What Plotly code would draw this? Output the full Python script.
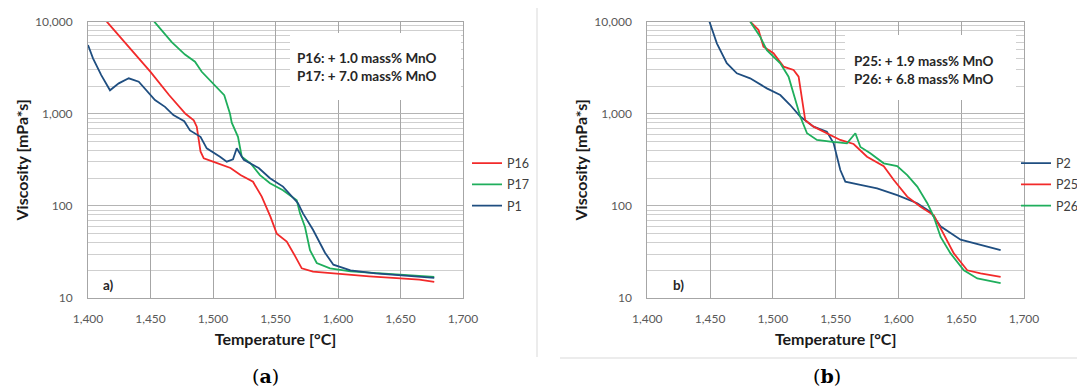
import plotly.graph_objects as go

# ---------------- Panel (a) data ----------------
t_p16 = [1415, 1430, 1450, 1465, 1478, 1484.6, 1487, 1490, 1492.6, 1500, 1507, 1514, 1522, 1532, 1539, 1546, 1551, 1559, 1566, 1571, 1580, 1600, 1625, 1650, 1665, 1677]
v_p16 = [10000, 5900, 2850, 1590, 1000, 850, 725, 390, 329, 302, 280, 258, 216, 183, 126, 76, 50, 41, 28, 21, 19.3, 18.2, 17.2, 16.3, 15.8, 15]

t_p17 = [1453, 1467, 1477.6, 1485.6, 1491, 1500, 1509, 1513.6, 1515, 1520, 1523, 1530, 1537.6, 1545.6, 1556, 1567, 1569.6, 1573.6, 1577.6, 1583, 1593.6, 1610, 1630, 1650, 1665, 1677]
v_p17 = [10000, 6000, 4400, 3680, 2860, 2140, 1590, 1000, 800, 563, 342, 290, 216, 176, 148, 115, 83, 59, 33, 24, 21, 19.5, 18.8, 18, 17.5, 17]

t_p1 = [1400, 1404, 1410.6, 1417.6, 1424.6, 1432.6, 1440.6, 1447.3, 1453.6, 1461.6, 1468.3, 1477, 1481.6, 1490, 1495, 1505.6, 1511, 1516, 1519, 1524.6, 1536.6, 1545.6, 1556, 1568, 1572, 1580, 1589.6, 1596.3, 1610, 1630, 1650, 1677]
v_p1 = [5580, 4000, 2630, 1800, 2140, 2430, 2230, 1740, 1410, 1190, 970, 830, 660, 563, 422, 342, 302, 320, 422, 316, 258, 200, 162, 107, 83, 55, 31, 23, 20, 18.5, 17.5, 16.5]

# ---------------- Panel (b) data ----------------
t_p2 = [1449.5, 1455.4, 1463.3, 1471.3, 1481.9, 1495.2, 1505.9, 1513.8, 1521.8, 1532.4, 1543, 1548.4, 1553.7, 1557.7, 1569.7, 1583, 1599, 1615, 1625.5, 1633.5, 1649.5, 1665, 1681.4]
v_p2 = [10000, 5820, 3540, 2750, 2430, 1890, 1600, 1245, 935, 725, 640, 478, 245, 183, 169, 155, 131, 107, 86, 60, 43, 38, 33]

t_p25 = [1482, 1488.6, 1492.5, 1500.5, 1508.5, 1516.5, 1520.5, 1523.2, 1525.8, 1532.4, 1543, 1553.7, 1564.3, 1575, 1588.3, 1596.3, 1607, 1617.6, 1628.2, 1636.1, 1644.1, 1654.8, 1665.4, 1681.4]
v_p25 = [10000, 8130, 5350, 4540, 3250, 2990, 2530, 1535, 850, 725, 615, 520, 470, 342, 270, 191, 126, 98, 79, 50, 30.5, 20, 18.5, 17]

t_p26 = [1482, 1489.9, 1495.2, 1505.9, 1512.5, 1517.8, 1521.8, 1527.2, 1535.1, 1545.8, 1559, 1565.7, 1569.7, 1577.6, 1588.3, 1599, 1607, 1615, 1623, 1628.2, 1633.6, 1641.5, 1652.1, 1662.8, 1681.4]
v_p26 = [10000, 6870, 4900, 3540, 2530, 1410, 935, 615, 520, 500, 478, 615, 436, 372, 290, 270, 216, 162, 107, 76, 46, 30.5, 20, 16.3, 14.5]

y_tickvals = [10, 100, 1000, 10000]
y_ticktext = ["10", "100", "1,000", "10,000"]
y_minor = [m * d for d in (10, 100, 1000) for m in range(2, 10)]
x_tickvals = [1400, 1450, 1500, 1550, 1600, 1650, 1700]

RED = "#f22a2a"
GREEN = "#1fae5c"
BLUE = "#1f4e80"

# the page body has an 8 px margin: positions below are window pixels shifted by it
OFF = 8
W, H = 1085, 389
def px(p):
    return (p - OFF) / W
def py(p):
    return 1 - (p - OFF) / H

fig = go.Figure()

series_a = [("P16", t_p16, v_p16, RED), ("P17", t_p17, v_p17, GREEN), ("P1", t_p1, v_p1, BLUE)]
series_b = [("P2", t_p2, v_p2, BLUE), ("P25", t_p25, v_p25, RED), ("P26", t_p26, v_p26, GREEN)]

for name, t, v, c in series_a:
    fig.add_trace(go.Scatter(x=t, y=v, mode="lines", name=name, legendgroup=name,
                             line=dict(color=c, width=1.8), xaxis="x", yaxis="y", legend="legend"))
for name, t, v, c in series_b:
    fig.add_trace(go.Scatter(x=t, y=v, mode="lines", name=name, legendgroup=name,
                             line=dict(color=c, width=1.8), xaxis="x2", yaxis="y2", legend="legend2"))

FONT = "Lato"
tickfont = dict(family=FONT, size=12, color="#595959")
titlefont = dict(family=FONT, size=16, color="#1a1a1a")

def xaxis_cfg(domain, anchor):
    return dict(domain=domain, anchor=anchor, range=[1400, 1700], tickvals=x_tickvals,
                tickformat=",", showgrid=True, gridcolor="#a6a6a6", gridwidth=1,
                showline=True, linecolor="#a6a6a6", linewidth=1, mirror=True, automargin=False,
                ticks="", ticklabelstandoff=10, tickfont=tickfont, zeroline=False,
                title=dict(text="<b>Temperature [°C]</b>", font=titlefont, standoff=8))

def yaxis_cfg(anchor):
    return dict(domain=[py(298), py(21.7)], anchor=anchor, type="log", range=[1, 4],
                tickvals=y_tickvals, ticktext=y_ticktext, showgrid=True, gridcolor="#b4b4b4",
                minor=dict(tickvals=y_minor, showgrid=True, gridcolor="#cfcfcf", ticklen=0),
                showline=True, linecolor="#a6a6a6", linewidth=1, mirror=True, automargin=False,
                ticks="", ticklabelstandoff=12, tickfont=tickfont, zeroline=False,
                title=dict(text="<b>Viscosity [mPa*s]</b>", font=titlefont, standoff=2))

legfont = dict(family=FONT, size=12.5, color="#404040")
fig.update_layout(
    width=W, height=H, margin=dict(l=0, r=0, t=0, b=0, autoexpand=False),
    paper_bgcolor="white", plot_bgcolor="white",
    xaxis=xaxis_cfg([px(88), px(463)], "y"),
    yaxis=yaxis_cfg("x"),
    xaxis2=xaxis_cfg([px(647.3), px(1024)], "y2"),
    yaxis2=yaxis_cfg("x2"),
    legend=dict(x=px(467), y=py(184.5), xanchor="left", yanchor="middle", tracegroupgap=2,
                font=legfont, bgcolor="rgba(0,0,0,0)"),
    legend2=dict(x=px(1016), y=py(184.5), xanchor="left", yanchor="middle", tracegroupgap=2,
                 font=legfont, bgcolor="rgba(0,0,0,0)"),
)

shapes = [
    dict(type="rect", xref="paper", yref="paper", x0=px(290), x1=px(461), y0=py(100), y1=py(33),
         fillcolor="white", line=dict(width=0), layer="above"),
    dict(type="rect", xref="paper", yref="paper", x0=px(845), x1=px(1016), y0=py(100), y1=py(35),
         fillcolor="white", line=dict(width=0), layer="above"),
    dict(type="line", xref="paper", yref="paper", x0=px(537), x1=px(537), y0=py(357), y1=py(8),
         line=dict(color="#d9d9d9", width=1)),
    dict(type="line", xref="paper", yref="paper", x0=px(560), x1=px(1085), y0=py(358), y1=py(358),
         line=dict(color="#d9d9d9", width=1)),
]
fig.update_layout(shapes=shapes)

boxfont = dict(family=FONT, size=13.5, color="#262626")
ann = [
    dict(x=px(295), y=py(58.3), text="<b>P16: + 1.0 mass% MnO</b>"),
    dict(x=px(295), y=py(76), text="<b>P17: + 7.0 mass% MnO</b>"),
    dict(x=px(852), y=py(60.7), text="<b>P25: + 1.9 mass% MnO</b>"),
    dict(x=px(852), y=py(78.7), text="<b>P26: + 6.8 mass% MnO</b>"),
    dict(x=px(101), y=py(285), text="<b>a)</b>"),
    dict(x=px(671), y=py(285), text="<b>b)</b>"),
]
annotations = []
for a in ann:
    a.update(xref="paper", yref="paper", xanchor="left", yanchor="middle", showarrow=False, font=boxfont)
    annotations.append(a)
serif = dict(family="DejaVu Serif", size=19, color="#000000")
annotations.append(dict(x=px(265), y=py(376), xref="paper", yref="paper", text="(<b>a</b>)",
                        showarrow=False, xanchor="center", yanchor="middle", font=serif))
annotations.append(dict(x=px(827), y=py(376), xref="paper", yref="paper", text="(<b>b</b>)",
                        showarrow=False, xanchor="center", yanchor="middle", font=serif))
fig.update_layout(annotations=annotations)

fig.write_html("out.html")
